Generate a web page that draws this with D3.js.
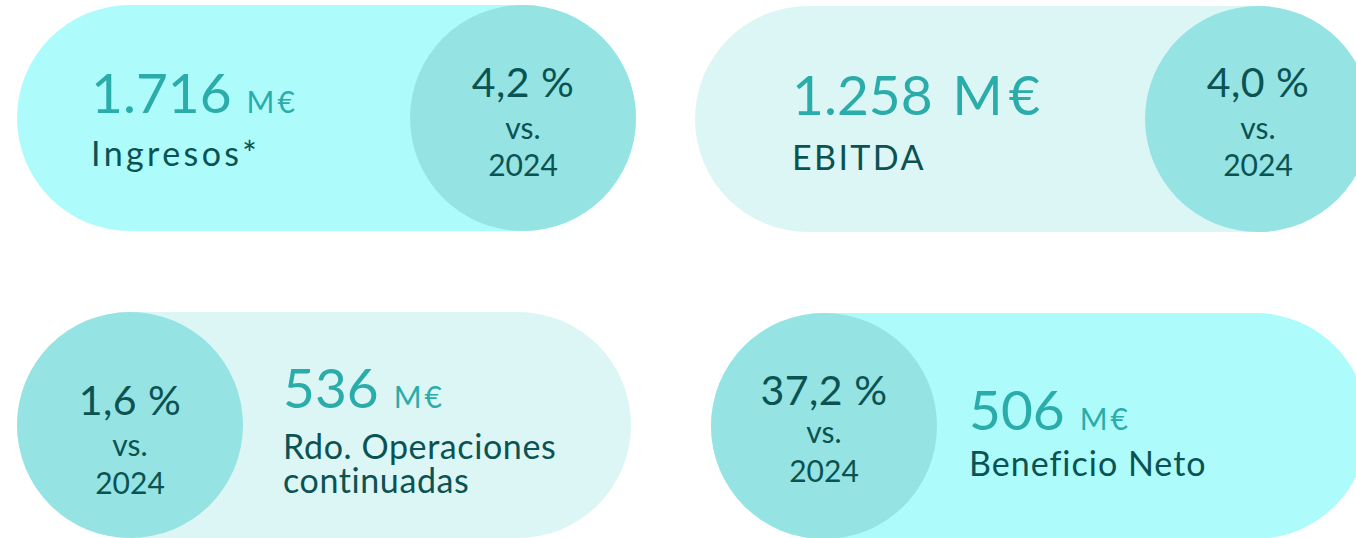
<!DOCTYPE html>
<html>
<head>
<meta charset="utf-8">
<script src="https://cdn.jsdelivr.net/npm/d3@7"></script>
<style>
  body { margin: 0; background: #fff; }
  svg { display: block; }
  text { font-family: Lato, "Noto Sans", sans-serif; }
</style>
</head>
<body>
<div class="kpis"></div>
<script>
// key figures, 2025 vs 2024
const labels = [["Ingresos*"], ["EBITDA"], ["Rdo. Operaciones", "continuadas"], ["Beneficio Neto"]];
const values = ["1.716", "1.258", "536", "506"];
const units = ["M€", "M€", "M€", "M€"];
const changes = ["4,2 %", "4,0 %", "1,6 %", "37,2 %"];
const baseYear = "2024";

const w = 1356;
const h = 538;

// layout for each pill: where it sits, which side the bubble is on
const layout = [
  { x0: 17,  x1: 636,  y: 5,   side: "right", fill: "#aefbfb", unitBig: false, tx: 91,  vy: 113, ly: 166, ls: 3.4, cy: [97, 139, 176] },
  { x0: 695, x1: 1371, y: 6,   side: "right", fill: "#dcf6f5", unitBig: true,  tx: 792, vy: 115, ly: 170, ls: 2.4, cy: [97, 139, 176] },
  { x0: 17,  x1: 631,  y: 312, side: "left",  fill: "#dcf6f5", unitBig: false, tx: 283, vy: 408, ly: 459, ls: 0.6, cy: [415, 456, 494] },
  { x0: 711, x1: 1368, y: 313, side: "left",  fill: "#aefbfb", unitBig: false, tx: 969, vy: 430, ly: 476, ls: 1.0, cy: [405, 443, 482] }
];
const H = 226, R = H / 2;

const teal = "#2aacaa";
const dark = "#0a5352";
const bubble = "#95e3e3";

d3.select('.kpis >*').remove();
const svg = d3.select('.kpis').append('svg')
  .attr('width', w)
  .attr('height', h)
  .attr('viewBox', `0 0 ${w} ${h}`);

const cards = svg.selectAll('g.card')
  .data(d3.range(values.length))
  .enter()
  .append('g')
  .attr('class', 'card');

// the pill
cards.append('rect')
  .attr('x', i => layout[i].x0)
  .attr('y', i => layout[i].y)
  .attr('width', i => layout[i].x1 - layout[i].x0)
  .attr('height', H)
  .attr('rx', R)
  .attr('ry', R)
  .attr('fill', i => layout[i].fill);

// the bubble with the change
const bx = i => layout[i].side === "right" ? layout[i].x1 - R : layout[i].x0 + R;
cards.append('circle')
  .attr('cx', bx)
  .attr('cy', i => layout[i].y + R)
  .attr('r', R)
  .attr('fill', bubble);

cards.append('text')
  .attr('x', bx)
  .attr('y', i => layout[i].cy[0])
  .attr('text-anchor', 'middle')
  .attr('fill', dark)
  .style('font-size', '41px')
  .style('letter-spacing', '0.5px')
  .text(i => changes[i]);

cards.append('text')
  .attr('x', bx)
  .attr('y', i => layout[i].cy[1])
  .attr('text-anchor', 'middle')
  .attr('fill', dark)
  .style('font-size', '30px')
  .text('vs.');

cards.append('text')
  .attr('x', bx)
  .attr('y', i => layout[i].cy[2])
  .attr('text-anchor', 'middle')
  .attr('fill', dark)
  .style('font-size', '30px')
  .text(baseYear);

// value + unit
const val = cards.append('text')
  .attr('x', i => layout[i].tx)
  .attr('y', i => layout[i].vy)
  .attr('fill', teal)
  .style('font-size', '55px');
val.append('tspan').text(i => values[i]);
val.append('tspan')
  .attr('dx', i => layout[i].unitBig ? 20 : 15)
  .style('font-size', i => layout[i].unitBig ? '54px' : '30px')
  .style('letter-spacing', i => layout[i].unitBig ? '6px' : '3px')
  .text(i => units[i]);

// label, one text per line
cards.each(function(i) {
  const L = layout[i];
  d3.select(this).selectAll('text.label')
    .data(labels[i])
    .enter()
    .append('text')
    .attr('class', 'label')
    .attr('x', L.tx)
    .attr('y', (d, k) => L.ly + k * 34)
    .attr('fill', dark)
    .style('font-size', '34px')
    .style('letter-spacing', L.ls + 'px')
    .text(d => d);
});
</script>
</body>
</html>
